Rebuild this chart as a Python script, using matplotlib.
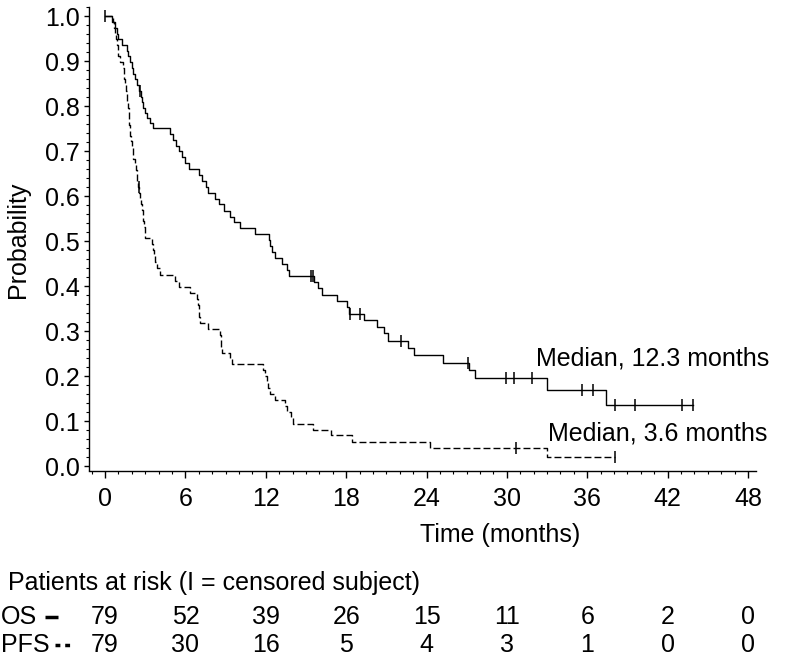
import matplotlib
matplotlib.use("Agg")
import matplotlib.pyplot as plt
from matplotlib.ticker import MultipleLocator
from matplotlib.lines import Line2D
from matplotlib.transforms import blended_transform_factory

plt.rcParams['font.family'] = ['Liberation Sans', 'DejaVu Sans']

# OS: step times (months) and survival after each step
os_t = [0.5, 0.75, 0.9, 1.0, 1.25, 1.6, 1.7, 1.85, 2.0, 2.1, 2.25, 2.4, 2.55, 2.65,
        2.75, 2.86, 3.0, 3.15, 3.36, 3.6,
        4.85, 5.05, 5.3, 5.5, 5.75, 5.95, 6.25,
        7.0, 7.2, 7.5, 7.65, 8.2, 8.5, 8.9, 9.3, 9.6, 10.1,
        11.2, 12.25, 12.3, 12.45, 12.7, 13.2, 13.55, 13.7,
        15.6, 15.9, 16.2, 17.3, 18.1, 18.2, 19.3, 20.3, 20.8, 21.1,
        22.6, 23.1, 25.2, 27.2, 27.6, 33.0, 37.4]
os_s = [0.987, 0.975, 0.962, 0.949, 0.937, 0.924, 0.911, 0.899, 0.886, 0.873, 0.860, 0.847, 0.835, 0.822,
        0.810, 0.797, 0.785, 0.775, 0.764, 0.752,
        0.739, 0.726, 0.713, 0.700, 0.687, 0.673, 0.660,
        0.647, 0.634, 0.621, 0.608, 0.595, 0.582, 0.568, 0.555, 0.542, 0.529,
        0.516, 0.502, 0.489, 0.476, 0.462, 0.449, 0.436, 0.422,
        0.409, 0.395, 0.381, 0.367, 0.353, 0.339, 0.324, 0.309, 0.295, 0.279,
        0.262, 0.247, 0.230, 0.213, 0.195, 0.170, 0.136]
os_end = 43.9
os_cens_t = [0.0, 2.6, 15.35, 15.5, 18.25, 19.0, 22.1, 27.1, 29.9, 30.5, 31.9,
             35.6, 36.4, 38.1, 39.6, 43.1, 43.9]
os_cens_s = [1.0, 0.835, 0.422, 0.422, 0.339, 0.339, 0.279, 0.230, 0.195, 0.195, 0.195,
             0.170, 0.170, 0.136, 0.136, 0.136, 0.136]

# PFS
pfs_t = [0.6, 0.7, 0.75, 0.8, 0.9, 0.95, 1.0, 1.1,
         1.35, 1.4, 1.45, 1.5, 1.55, 1.6, 1.65, 1.72, 1.75, 1.78, 1.8, 1.83, 1.86,
         1.9, 1.98, 2.05, 2.12, 2.2, 2.28, 2.35, 2.4, 2.45, 2.55, 2.62, 2.7, 2.75,
         2.8, 2.85, 2.9, 2.95, 3.0,
         3.5, 3.55, 3.65, 3.75, 3.9, 4.1,
         5.2, 5.5, 6.35, 6.9, 6.95, 7.0, 7.05, 7.1, 7.7,
         8.6, 8.62, 8.65, 8.7, 9.3, 9.45,
         11.8, 11.95, 12.1, 12.2, 12.3, 12.7, 13.4, 13.6, 13.85, 14.05,
         15.5, 16.9, 18.4, 24.25, 33.0]
pfs_s = [0.987, 0.975, 0.962, 0.949, 0.937, 0.924, 0.911, 0.899,
         0.886, 0.873, 0.861, 0.848, 0.835, 0.823, 0.810, 0.797, 0.785, 0.772, 0.759, 0.747, 0.734,
         0.722, 0.709, 0.696, 0.684, 0.671, 0.658, 0.646, 0.633, 0.620, 0.608, 0.595, 0.582, 0.570,
         0.557, 0.544, 0.532, 0.519, 0.507,
         0.494, 0.480, 0.467, 0.453, 0.440, 0.426,
         0.412, 0.398, 0.385, 0.371, 0.358, 0.344, 0.331, 0.318, 0.305,
         0.291, 0.278, 0.265, 0.252, 0.239, 0.227,
         0.213, 0.200, 0.186, 0.173, 0.160, 0.147, 0.133, 0.120, 0.107, 0.094,
         0.081, 0.068, 0.054, 0.041, 0.0205]
pfs_end = 38.1
pfs_cens_t = [2.5, 30.7, 38.1]
pfs_cens_s = [0.620, 0.041, 0.0205]

# numbers at risk
risk_times = [0, 6, 12, 18, 24, 30, 36, 42, 48]
os_risk = [79, 52, 39, 26, 15, 11, 6, 2, 0]
pfs_risk = [79, 30, 16, 5, 4, 3, 1, 0, 0]

W, H = 786, 665
fs = 18
fig = plt.figure(figsize=(W / 100, H / 100), dpi=100)
ax = fig.add_axes([89 / W, 1 - 470.5 / H, 667 / W, 463 / H])

ax.step([0] + os_t + [os_end], [1.0] + os_s + [os_s[-1]], where='post',
        color='black', lw=1.0)
ax.step([0] + pfs_t + [pfs_end], [1.0] + pfs_s + [pfs_s[-1]], where='post',
        color='black', lw=1.0, linestyle=(0, (5, 2.2)))
ax.plot(os_cens_t, os_cens_s, linestyle='none', marker='|', ms=9, mew=1.1, color='black')
ax.plot(pfs_cens_t, pfs_cens_s, linestyle='none', marker='|', ms=9, mew=1.1, color='black')

ax.set_xlim(-1.2, 48.6)
ax.set_ylim(-0.01, 1.02)
ax.set_xticks(risk_times)
ax.set_yticks([i / 10 for i in range(11)])
ax.set_yticklabels([f'{i / 10:.1f}' for i in range(11)])
ax.xaxis.set_minor_locator(MultipleLocator(1))
ax.yaxis.set_minor_locator(MultipleLocator(0.02))
ax.spines['top'].set_visible(False)
ax.spines['right'].set_visible(False)
ax.spines['left'].set_linewidth(1.0)
ax.spines['bottom'].set_linewidth(1.0)
ax.tick_params(axis='x', which='major', direction='out', length=5, width=1.0, labelsize=fs, pad=7)
ax.tick_params(axis='x', which='minor', direction='out', length=2.5, width=0.8)
ax.tick_params(axis='y', which='major', direction='out', length=3.5, width=1.0, labelsize=fs, pad=3)
ax.tick_params(axis='y', which='minor', direction='out', length=2, width=0.8)

fig.text(18 / W, 1 - 240 / H, 'Probability', rotation=90, ha='center', va='center', fontsize=fs)
fig.text(500 / W, 1 - 535 / H, 'Time (months)', ha='center', va='center', fontsize=fs)

ax.text(32.2, 0.240, 'Median, 12.3 months', ha='left', va='center', fontsize=fs)
ax.text(33.06, 0.073, 'Median, 3.6 months', ha='left', va='center', fontsize=fs)

fig.text(8 / W, 1 - 583 / H, 'Patients at risk (I = censored subject)', ha='left', va='center', fontsize=fs)
tr = blended_transform_factory(ax.transData, fig.transFigure)
y_os = 1 - 617 / H
y_pfs = 1 - 645 / H
for t, a, b in zip(risk_times, os_risk, pfs_risk):
    ax.text(t, y_os, str(a), transform=tr, ha='center', va='center', fontsize=fs, clip_on=False)
    ax.text(t, y_pfs, str(b), transform=tr, ha='center', va='center', fontsize=fs, clip_on=False)
fig.text(1 / W, y_os, 'OS', ha='left', va='center', fontsize=fs)
fig.text(1 / W, y_pfs, 'PFS', ha='left', va='center', fontsize=fs)
fig.add_artist(Line2D([45 / W, 58 / W], [y_os, y_os], color='black', lw=2.5,
                      solid_capstyle='butt', transform=fig.transFigure))
fig.add_artist(Line2D([55 / W, 70 / W], [y_pfs, y_pfs], color='black', lw=2.5,
                      linestyle=(0, (1.4, 1.4)), dash_capstyle='butt', transform=fig.transFigure))

fig.savefig('out.png', dpi=100)
